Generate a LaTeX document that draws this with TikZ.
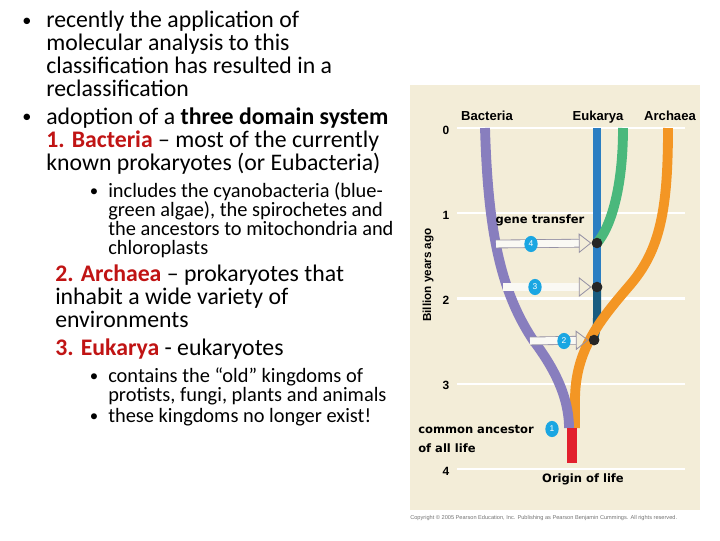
\documentclass[tikz,border=0pt]{standalone}
\usepackage{fontspec}
\setmainfont{Carlito}
\newfontfamily\labelfont{Liberation Sans}
\newfontfamily\notefont{DejaVu Sans}
\usepackage{tikz}
\usetikzlibrary{arrows.meta, shapes.geometric, positioning}
\usepackage{xcolor}
\definecolor{panelbeige}{RGB}{243,237,216}
\definecolor{bactpurple}{RGB}{136,126,190}
\definecolor{archorange}{RGB}{243,150,36}
\definecolor{eukblue}{RGB}{42,126,194}
\definecolor{eukdark}{RGB}{24,92,128}
\definecolor{plantgreen}{RGB}{74,184,124}
\definecolor{originred}{RGB}{226,32,46}
\definecolor{badgecyan}{RGB}{26,166,226}
\definecolor{headred}{RGB}{192,20,20}
\definecolor{arrowgray}{RGB}{150,146,165}
\definecolor{arrowfill}{RGB}{250,249,244}

\tikzset{
  bodytext/.style={anchor=base west, align=left, inner sep=0pt, font=\fontsize{16.9}{16.3}\selectfont},
  subtext/.style={bodytext, font=\fontsize{14.5}{13.5}\selectfont},
  bulletmark/.style={anchor=base, inner sep=0pt, font=\fontsize{12}{12}\selectfont},
  yearnum/.style={font=\labelfont\bfseries\fontsize{8.5}{10}\selectfont, inner sep=0pt},
  domainname/.style={anchor=base, font=\labelfont\bfseries\fontsize{9.3}{11}\selectfont, inner sep=0pt},
  boldnote/.style={font=\notefont\bfseries\fontsize{8.2}{13.5}\selectfont, inner sep=0pt},
  timeline/.style={white, line width=1.5pt},
  branch/.style={line width=7pt},
  junction/.style={circle, fill=black!85, minimum size=7.5pt, inner sep=0pt},
  badge/.style={ellipse, fill=badgecyan, text=white, minimum width=9.5pt, minimum height=11.5pt, inner sep=0pt, font=\labelfont\fontsize{6}{6}\selectfont},
  genearrow/.style={draw=arrowgray, double=arrowfill, double distance=5pt, line width=0.6pt, -{Triangle[open, length=9pt, width=14pt]}},
}

\begin{document}
\begin{tikzpicture}[x=0.025cm, y=-0.025cm]
  \useasboundingbox (0,0) rectangle (720,540);

  % left column text (multi-line nodes sit on their last baseline)
  \node[bulletmark, font=\fontsize{13}{13}\selectfont] (dotA) at (27,26) {•};
  \node[bodytext] (recent) at (46,96) {recently the application of\\molecular analysis to this\\classification has resulted in a\\reclassification};
  \node[bulletmark, font=\fontsize{13}{13}\selectfont] (dotB) at (27,122) {•};
  \node[bodytext] (adopt) at (46,170) {adoption of a \textbf{three domain system}\\\textcolor{headred}{\textbf{1. Bacteria}} – most of the currently\\known prokaryotes (or Eubacteria)};
  \node[bulletmark] (dotC) at (94,196) {•};
  \node[subtext] (cyano) at (108,254) {includes the cyanobacteria (blue-\\green algae), the spirochetes and\\the ancestors to mitochondria and\\chloroplasts};
  \node[bodytext] (archaea) at (55,327) {\textcolor{headred}{\textbf{2. Archaea}} – prokaryotes that\\inhabit a wide variety of\\environments};
  \node[bodytext] (eukarya) at (55,355) {\textcolor{headred}{\textbf{3. Eukarya}} - eukaryotes};
  \node[bulletmark] (dotF) at (94,381) {•};
  \node[subtext] (kingdoms) at (108,401) {contains the “old” kingdoms of\\protists, fungi, plants and animals};
  \node[bulletmark] (dotG) at (94,421) {•};
  \node[subtext] (extinct) at (108,422) {these kingdoms no longer exist!};

  % tree panel
  \fill[panelbeige] (410,85) rectangle (700,510);
  \foreach \yr in {0,...,4} {
    \draw[timeline] (457,128+85.25*\yr) -- (685,128+85.25*\yr);
    \node[yearnum] (yr\yr) at (446,130+85.25*\yr) {\yr};
  }
  \node[yearnum, rotate=90, font=\labelfont\bfseries\fontsize{8.3}{10}\selectfont] (axis) at (428,275) {Billion years ago};

  \coordinate (bactTop) at (485,128);
  \coordinate (eukTop) at (597,128);
  \coordinate (plantTop) at (623,128);
  \coordinate (archTop) at (668,128);
  \coordinate (root) at (572,428);
  \coordinate (originEnd) at (572,463);
  \node[junction] (j4) at (597,243) {};
  \node[junction] (j3) at (597,287) {};
  \node[junction] (j2) at (594,340) {};

  \draw[branch, eukblue, line width=5.7pt] (eukTop) -- (j3.center);
  \draw[branch, eukdark, line width=5.7pt] (j3.center) -- (597,318) .. controls (597,330) and (595,335) .. (j2.center);
  \draw[branch, plantgreen] (plantTop) .. controls (623,190) and (610,228) .. (j4.center);
  \draw[branch, archorange] (archTop) .. controls (668,210) and (660,250) .. (630,285)
    .. controls (600,320) and (575,350) .. (575,400) -- (575,428);
  \draw[branch, bactpurple] (bactTop) .. controls (488,230) and (500,290) .. (533,340)
    .. controls (552,365) and (569,395) .. (569,428);
  \draw[originred, line width=7.8pt] (root) -- (originEnd);

  \node[junction] at (j4) {};
  \node[junction] at (j3) {};
  \node[junction] at (j2) {};

  % gene transfer arrows
  \coordinate (t4) at (496,244);
  \coordinate (t3) at (503,287);
  \coordinate (t2) at (530,341);
  \draw[genearrow] (t4) -- (j4);
  \draw[genearrow] (t3) -- (j3);
  \draw[genearrow] (t2) -- (j2);
  \node[badge] (b4) at (531,244) {4};
  \node[badge] (b3) at (535,287) {3};
  \node[badge] (b2) at (564,341) {2};
  \node[badge] (b1) at (552,429) {1};

  % labels
  \node[domainname] (bacteria) at (487,120) {Bacteria};
  \node[domainname] (eukname) at (598,120) {Eukarya};
  \node[domainname] (archname) at (670,120) {Archaea};
  \node[boldnote] (transfer) at (540,220) {gene transfer};
  \node[boldnote, anchor=base west, align=left] (ancestor) at (418,452) {common ancestor\\of all life};
  \node[boldnote] (origin) at (583,479) {Origin of life};
  \node[anchor=base west, inner sep=0pt, text=black!55, font=\labelfont\fontsize{4}{5}\selectfont] (copyright) at (410,519) {Copyright © 2005 Pearson Education, Inc. Publishing as Pearson Benjamin Cummings. All rights reserved.};
\end{tikzpicture}
\end{document}
